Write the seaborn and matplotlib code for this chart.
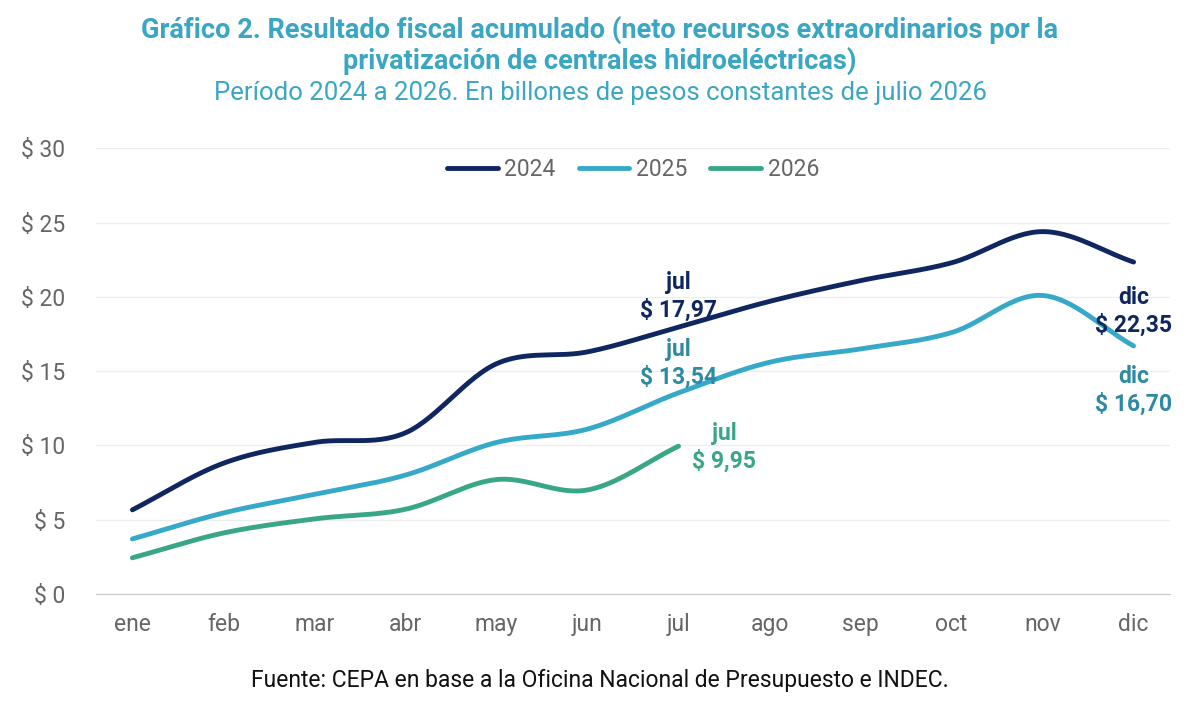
import numpy as np
import pandas as pd
import seaborn as sns
import matplotlib.pyplot as plt

months = ["ene", "feb", "mar", "abr", "may", "jun", "jul", "ago", "sep", "oct", "nov", "dic"]
v2024 = [5.66, 8.8, 10.2, 10.85, 15.5, 16.3, 17.97, 19.7, 21.1, 22.3, 24.4, 22.35]
v2025 = [3.7, 5.45, 6.7, 8.0, 10.2, 11.1, 13.54, 15.6, 16.5, 17.6, 20.1, 16.70]
v2026 = [2.43, 4.1, 5.05, 5.7, 7.7, 7.0, 9.95]
series = {"2024": v2024, "2025": v2025, "2026": v2026}
colors = {"2024": "#0f2660", "2025": "#36a9c9", "2026": "#3aa688"}
label_colors = {"2024": "#0f2660", "2025": "#2e8aa3", "2026": "#3aa688"}

sns.set_style("white")
plt.rcParams["font.family"] = ["Roboto", "DejaVu Sans"]


def smooth(y, n=30):
    # Catmull-Rom spline through the monthly points
    y = np.asarray(y, float)
    p = np.concatenate([[2 * y[0] - y[1]], y, [2 * y[-1] - y[-2]]])
    xs, ys = [], []
    for i in range(len(y) - 1):
        t = np.linspace(0, 1, n, endpoint=False)
        p0, p1, p2, p3 = p[i], p[i + 1], p[i + 2], p[i + 3]
        ys.append(0.5 * (2 * p1 + (-p0 + p2) * t + (2 * p0 - 5 * p1 + 4 * p2 - p3) * t**2
                         + (-p0 + 3 * p1 - 3 * p2 + p3) * t**3))
        xs.append(i + t)
    xs.append([len(y) - 1]); ys.append([y[-1]])
    return np.concatenate(xs), np.concatenate(ys)


rows = []
for name, vals in series.items():
    xs, ys = smooth(vals)
    rows.append(pd.DataFrame({"x": xs, "y": ys, "serie": name}))
df = pd.concat(rows)

fig, ax = plt.subplots(figsize=(12, 7.07), dpi=100)
fig.subplots_adjust(left=0.08, right=0.975, top=0.79, bottom=0.16)
sns.lineplot(data=df, x="x", y="y", hue="serie", palette=colors, linewidth=3.5, ax=ax, sort=False)

ax.set_xlim(-0.4, 11.4)
ax.set_ylim(0, 30)
ax.set_yticks(range(0, 31, 5))
ax.set_yticklabels([f"$ {v}" for v in range(0, 31, 5)], fontsize=16.5, color="#666666")
ax.set_xticks(range(12))
ax.set_xticklabels(months, fontsize=16.5, color="#666666")
ax.tick_params(axis="y", length=0, pad=22)
ax.tick_params(axis="x", length=0, pad=14)
ax.yaxis.grid(True, color="#eeeeee", linewidth=1)
ax.set_xlabel("")
ax.set_ylabel("")
for s in ["top", "right", "left"]:
    ax.spines[s].set_visible(False)
ax.spines["bottom"].set_color("#cccccc")

leg = ax.legend(loc="upper center", bbox_to_anchor=(0.5, 1.025), ncol=3, frameon=False,
                fontsize=16.5, handlelength=2.2, handletextpad=0.3, columnspacing=1.0)
for t in leg.get_texts():
    t.set_color("#666666")

def fmt(v):
    return f"$ {v:.2f}".replace(".", ",")

kw = dict(ha="center", va="center", fontsize=16.5, fontweight="bold", linespacing=1.25)
ax.text(6.0, v2024[6] + 2.1, f"jul\n{fmt(v2024[6])}", color=label_colors["2024"], **kw)
ax.text(6.0, v2025[6] + 2.0, f"jul\n{fmt(v2025[6])}", color=label_colors["2025"], **kw)
ax.text(6.5, v2026[6] - 0.1, f"jul\n{fmt(v2026[6])}", color=label_colors["2026"], **kw)
ax.text(11.0, v2024[11] - 3.3, f"dic\n{fmt(v2024[11])}", color=label_colors["2024"], **kw)
ax.text(11.0, v2025[11] - 3.0, f"dic\n{fmt(v2025[11])}", color=label_colors["2025"], **kw)

fig.text(0.5, 0.978, "Gráfico 2. Resultado fiscal acumulado (neto recursos extraordinarios por la\n"
         "privatización de centrales hidroeléctricas)", ha="center", va="top", fontsize=19.5,
         fontweight="bold", color="#3aa6c4", linespacing=1.15)
fig.text(0.5, 0.868, "Período 2024 a 2026. En billones de pesos constantes de julio 2026",
         ha="center", va="center", fontsize=18.5, color="#3aa6c4")
fig.text(0.5, 0.037, "Fuente: CEPA en base a la Oficina Nacional de Presupuesto e INDEC.",
         ha="center", va="center", fontsize=16.5, color="#111111")

fig.savefig("out.png", dpi=100)
